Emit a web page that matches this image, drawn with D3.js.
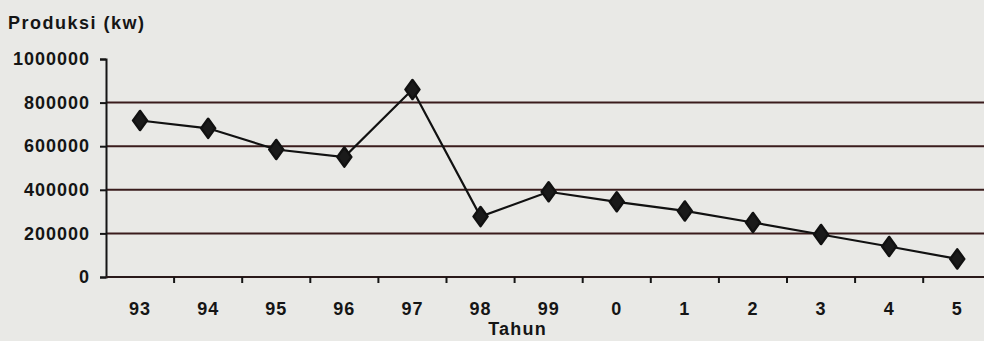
<!DOCTYPE html>
<html>
<head>
<meta charset="utf-8">
<script src="https://cdn.jsdelivr.net/npm/d3@7"></script>
<style>
  body { margin: 0; background: #e9e9e6; }
  svg { display: block; }
  text { font-family: "Liberation Sans", Arial, sans-serif; font-weight: bold; fill: #151515; }
</style>
</head>
<body>
<div id="chart"></div>
<script>
// produksi per tahun
const tahun = ["93", "94", "95", "96", "97", "98", "99", "0", "1", "2", "3", "4", "5"]
const produksi = [718000, 682000, 585000, 550000, 860000, 277000, 391000, 345000, 303000, 250000, 195000, 140000, 83000]
const yTicks = [0, 200000, 400000, 600000, 800000, 1000000]

const width = 984, height = 341
const margin = {top: 59, left: 106, bottom: 64}
const fontSize = '18px'

const svg = d3.select('#chart').append('svg')
    .attr('width', width)
    .attr('height', height)

svg.append('rect').attr('width', width).attr('height', height).attr('fill', '#e9e9e6')

const x = d3.scaleBand()
    .domain(tahun)
    .range([margin.left, margin.left + 13 * 68.1])

const y = d3.scaleLinear()
    .domain([0, 1000000])
    .range([height - margin.bottom, margin.top])

// grid lines (not at 0 / top)
svg.append('g')
    .selectAll('line')
    .data(yTicks.filter(d => d > 0 && d < 1000000))
    .join('line')
    .attr('x1', margin.left)
    .attr('x2', width)
    .attr('y1', d => y(d))
    .attr('y2', d => y(d))
    .attr('stroke', '#3a1c1c')
    .attr('stroke-width', 2)

// y axis
const yAxis = svg.append('g')
    .attr('transform', `translate(${margin.left},0)`)
    .call(d3.axisLeft(y).tickValues(yTicks).tickSize(6).tickPadding(10).tickFormat(d3.format('d')))
yAxis.select('.domain').attr('stroke', '#151515').attr('stroke-width', 2)
yAxis.selectAll('.tick line').attr('stroke', '#151515').attr('stroke-width', 2)
yAxis.selectAll('text').style('font-size', fontSize).style('letter-spacing', '1px')

// x axis line + ticks between categories
const x0 = y(0)
svg.append('line')
    .attr('x1', margin.left).attr('x2', width)
    .attr('y1', x0).attr('y2', x0)
    .attr('stroke', '#2a1a1a').attr('stroke-width', 2)

svg.append('g')
    .selectAll('line')
    .data(tahun.slice(1))
    .join('line')
    .attr('x1', d => x(d))
    .attr('x2', d => x(d))
    .attr('y1', x0)
    .attr('y2', x0 + 6)
    .attr('stroke', '#151515')
    .attr('stroke-width', 2)

svg.append('g')
    .selectAll('text')
    .data(tahun)
    .join('text')
    .attr('x', d => x(d) + x.bandwidth() / 2)
    .attr('y', x0 + 38)
    .attr('text-anchor', 'middle')
    .style('font-size', fontSize)
    .style('letter-spacing', '1px')
    .text(d => d)

// titles
svg.append('text')
    .attr('x', 8).attr('y', 29)
    .style('font-size', fontSize)
    .style('letter-spacing', '1.5px')
    .text('Produksi (kw)')

svg.append('text')
    .attr('x', x('99') + 3).attr('y', x0 + 58)
    .attr('text-anchor', 'middle')
    .style('font-size', fontSize)
    .style('letter-spacing', '1.2px')
    .text('Tahun')

// line + markers
const line = d3.line()
    .x((d, i) => x(tahun[i]) + x.bandwidth() / 2)
    .y(d => y(d))

svg.append('path')
    .datum(produksi)
    .attr('d', line)
    .attr('fill', 'none')
    .attr('stroke', '#111')
    .attr('stroke-width', 2.2)

svg.append('g')
    .selectAll('path')
    .data(produksi)
    .join('path')
    .attr('d', d3.symbol(d3.symbolDiamond, 110))
    .attr('transform', (d, i) => `translate(${x(tahun[i]) + x.bandwidth() / 2},${y(d)}) scale(1.25,1)`)
    .attr('fill', '#1a1a1a')
    .attr('stroke', '#111')
    .attr('stroke-width', 2)
    .attr('stroke-linejoin', 'round')
</script>
</body>
</html>
